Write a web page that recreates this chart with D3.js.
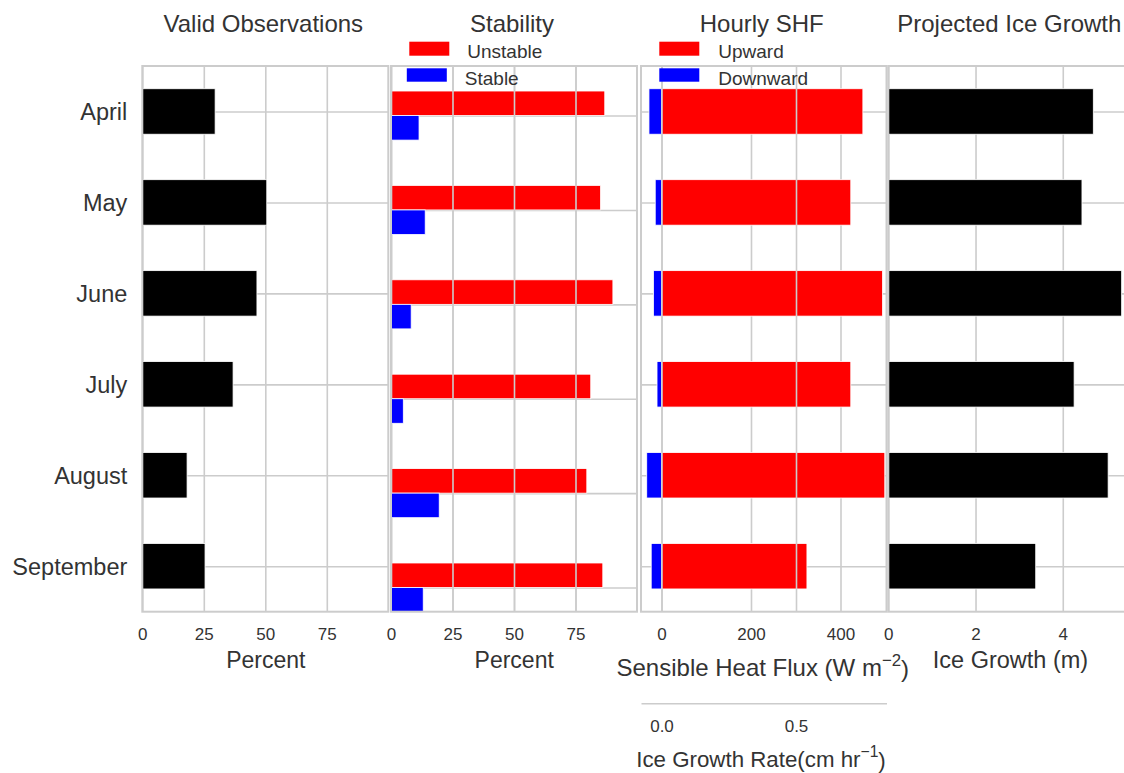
<!DOCTYPE html>
<html>
<head>
<meta charset="utf-8">
<script src="https://cdn.jsdelivr.net/npm/d3@7"></script>
<style>
  body { margin: 0; background: #fff; }
  text { font-family: "Liberation Sans", Arial, sans-serif; fill: #333; }
</style>
</head>
<body>
<svg id="chart" width="1124" height="773"></svg>
<script>
// data
const months = ['April', 'May', 'June', 'July', 'August', 'September']
const validObs = [29.6, 50.6, 46.6, 36.9, 18.2, 25.5]
const unstable = [86.9, 85.2, 90.2, 81.2, 79.6, 86.1]
const stable = [11.4, 13.9, 8.2, 5.0, 19.6, 13.1]
const upward = [450, 423, 494, 423, 499, 325]
const downward = [-28, -14, -18, -10, -33, -23]
const iceGrowth = [4.70, 4.44, 5.35, 4.26, 5.04, 3.38]

const pctTicks = [0, 25, 50, 75]
const shfTicks = [0, 200, 400]
const rateTicks = [0.0, 0.5]
const growthTicks = [0, 2, 4]
const stabilityLegend = ['Unstable', 'Stable']
const shfLegend = ['Upward', 'Downward']

const svg = d3.select('#chart')
const plotTop = 66, plotBottom = 611.7
const gridColor = '#cccccc'
const textColor = '#333'

// row scales (month index -> y)
const yRow = d3.scaleLinear().domain([-0.5, 5.5]).range([plotTop, plotBottom])
const yStab = d3.scaleLinear().domain([-0.525, 5.256]).range([plotTop, plotBottom])

// x scales, one per panel
const x1 = d3.scaleLinear().domain([0, 100]).range([142.3, 388.3])
const x2 = d3.scaleLinear().domain([0, 100]).range([391, 637])
const x3 = d3.scaleLinear().domain([-45.8, 502.8]).range([641, 886.5])
const x3b = d3.scaleLinear().domain([-0.0762, 0.8364]).range([641, 886.5])
const x4 = d3.scaleLinear().domain([0, 5.64]).range([888.3, 1134.3])

function styleGrid(g) {
  g.select('.domain').remove()
  g.selectAll('line').attr('stroke', gridColor).attr('stroke-width', 1.6)
}

function vGrid(x, ticks) {
  svg.append('g')
    .attr('transform', `translate(0,${plotBottom})`)
    .call(d3.axisBottom(x).tickValues(ticks).tickSize(-(plotBottom - plotTop)).tickFormat(''))
    .call(styleGrid)
}

function hGrid(x, y) {
  svg.append('g')
    .attr('transform', `translate(${x.range()[0]},0)`)
    .call(d3.axisLeft(y).tickValues(d3.range(months.length)).tickSize(-(x.range()[1] - x.range()[0])).tickFormat(''))
    .call(styleGrid)
}

function xLabels(x, ticks, fmt) {
  const g = svg.append('g')
    .attr('transform', `translate(0,${plotBottom})`)
    .call(d3.axisBottom(x).tickValues(ticks).tickSize(0).tickPadding(16.3).tickFormat(fmt))
  g.select('.domain').remove()
  g.attr('font-family', null)
  g.selectAll('text').attr('font-size', 17).style('fill', textColor)
}

function frame(x) {
  svg.append('rect')
    .attr('x', x.range()[0]).attr('y', plotTop)
    .attr('width', x.range()[1] - x.range()[0]).attr('height', plotBottom - plotTop)
    .attr('fill', 'none').attr('stroke', gridColor).attr('stroke-width', 2)
}

function bars(x, y, values, offset, h, color) {
  svg.append('g')
    .selectAll('rect')
    .data(values)
    .join('rect')
    .attr('x', (d) => x(Math.min(0, d)))
    .attr('width', (d) => Math.abs(x(d) - x(0)))
    .attr('y', (d, i) => y(i + offset))
    .attr('height', y(h) - y(0))
    .attr('fill', color)
    .attr('stroke', '#fff')
    .attr('stroke-width', 0.8)
}

function title(x, txt) {
  svg.append('text')
    .attr('x', (x.range()[0] + x.range()[1]) / 2 - 2)
    .attr('y', 32)
    .attr('text-anchor', 'middle')
    .attr('font-size', 24)
    .text(txt)
}

function axisTitle(cx, y, txt, sup, size) {
  const fs = size || 23
  const t = svg.append('text')
    .attr('x', cx).attr('y', y)
    .attr('text-anchor', 'middle')
    .attr('font-size', fs)
  t.append('tspan').text(txt)
  if (sup) {
    t.append('tspan').attr('font-size', fs * 0.7).attr('dy', -10).text(sup)
    t.append('tspan').attr('dy', 11).text(')')
  }
}

function legend(x0, labels, colors, textX, shiftSecond) {
  labels.forEach((lab, i) => {
    const dx = i === 1 ? shiftSecond : 0
    svg.append('rect')
      .attr('x', x0 - dx).attr('y', i === 0 ? 41.7 : 68.3)
      .attr('width', 40).attr('height', i === 0 ? 14 : 13.4)
      .attr('fill', colors[i])
    svg.append('text')
      .attr('x', textX - dx).attr('y', i === 0 ? 57.7 : 85)
      .attr('font-size', 19)
      .text(lab)
  })
}

// ---- panel 1: valid observations
vGrid(x1, pctTicks)
hGrid(x1, yRow)
bars(x1, yRow, validObs, -0.25, 0.5, '#000')
frame(x1)
xLabels(x1, pctTicks, d3.format('d'))
const yAx = svg.append('g')
  .attr('transform', `translate(${x1.range()[0]},0)`)
  .call(d3.axisLeft(yRow).tickValues(d3.range(months.length)).tickSize(0).tickPadding(15).tickFormat((i) => months[i]))
yAx.select('.domain').remove()
yAx.attr('font-family', null)
yAx.selectAll('text').attr('font-size', 23.5).attr('dy', '0.36em').style('fill', textColor)
title(x1, 'Valid Observations')
axisTitle(265.8, 668, 'Percent')

// ---- panel 2: stability
vGrid(x2, pctTicks)
hGrid(x2, yStab)
bars(x2, yStab, unstable, -0.26, 0.26, '#ff0000')
vGrid(x2, pctTicks)
bars(x2, yStab, stable, 0, 0.26, '#0000ff')
frame(x2)
xLabels(x2, pctTicks, d3.format('d'))
title(x2, 'Stability')
axisTitle(514.2, 668, 'Percent')
legend(409.3, stabilityLegend, ['#ff0000', '#0000ff'], 467.3, 2.5)

// ---- panel 3: hourly SHF
vGrid(x3, shfTicks)
hGrid(x3, yRow)
bars(x3, yRow, upward, -0.25, 0.5, '#ff0000')
bars(x3, yRow, downward, -0.25, 0.5, '#0000ff')
vGrid(x3b, rateTicks)
frame(x3)
xLabels(x3, shfTicks, d3.format('d'))
title(x3, 'Hourly SHF')
axisTitle(762.8, 676, 'Sensible Heat Flux (W m', '\u22122', 24)
legend(659.3, shfLegend, ['#ff0000', '#0000ff'], 718.3, 0)

// secondary axis: ice growth rate
const rateAx = svg.append('g')
  .attr('transform', 'translate(0,703.3)')
  .call(d3.axisBottom(x3b).tickValues(rateTicks).tickSize(0).tickPadding(16.7).tickFormat(d3.format('.1f')))
rateAx.select('.domain').attr('stroke', gridColor).attr('stroke-width', 1.6)
rateAx.attr('font-family', null)
rateAx.selectAll('text').attr('font-size', 17).style('fill', textColor)
axisTitle(761, 766.7, 'Ice Growth Rate(cm hr', '\u22121', 22.3)

// ---- panel 4: projected ice growth
vGrid(x4, growthTicks)
hGrid(x4, yRow)
bars(x4, yRow, iceGrowth, -0.25, 0.5, '#000')
frame(x4)
xLabels(x4, growthTicks, d3.format('d'))
title(x4, 'Projected Ice Growth')
axisTitle(1010.5, 668, 'Ice Growth (m)', null, 23.5)
</script>
</body>
</html>
